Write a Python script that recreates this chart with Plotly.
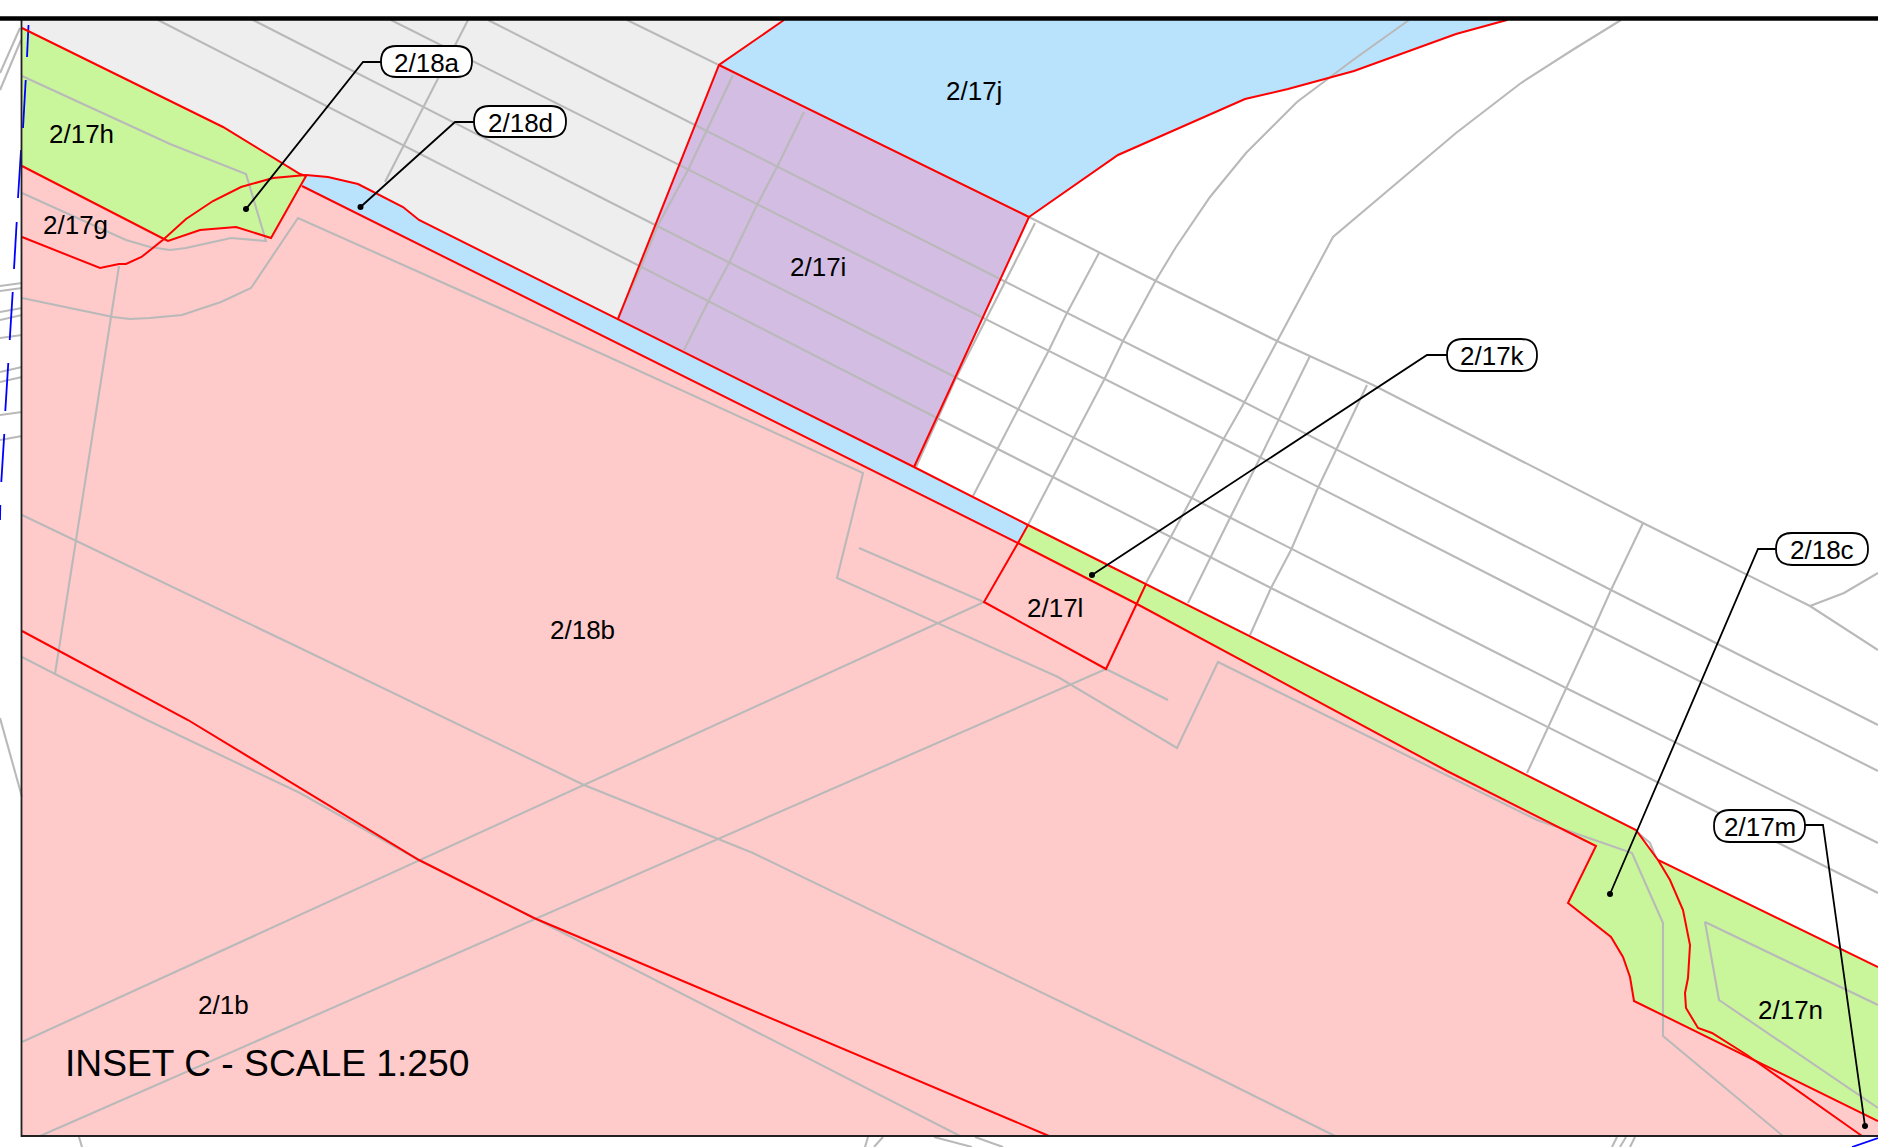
import plotly.graph_objects as go

# map geometry, in sheet pixels
grey_area = [(22,20),(784,20),(719,65),(618,319),(419,220),(403,207),(358,184),(328,177),(306,175),(300,174),(223,127),(22,28)]
plot_pink = [(22,166),(164,239),(168,241),(200,230),(236,227),(271,238),(302,186),(1018,543),(1137,604),(1447,771),(1596,846),
             (1568,903),(1611,937),(1623,957),(1630,977),(1634,1001),(1878,1121),(1878,1136),(22,1136)]
plot_17h = [(22,28),(223,127),(300,174),(306,176),(271,238),(236,227),(200,230),(168,241),(164,239),(22,166)]
plot_18d = [(306,175),(328,177),(358,184),(403,207),(419,220),(618,319),(914,467),(1028,525),(1018,543),(302,186)]
plot_17i = [(719,65),(1029,217),(914,467),(618,319)]
plot_17j = [(784,20),(719,65),(1029,217),(1118,155),(1245,99),(1288,89),(1354,71),(1456,34),(1507,20)]
plot_17k = [(1028,525),(1636,830),(1658,860),(1878,967),(1878,1121),(1634,1001),(1630,977),(1623,957),(1611,937),
            (1568,903),(1596,846),(1447,771),(1137,604),(1018,543)]

grey_lines = [
    # long parallels
    [(627,20),(719,65),(1029,217),(1154,280),(1277,341),(1373,385),(1643,523),(1810,606),(1878,650)],
    [(488,20),(600,77),(1002,280),(1240,400),(1611,590),(1878,725)],
    [(391,20),(600,125),(984,318),(1240,447),(1594,628),(1878,771)],
    [(253,20),(600,197),(955,377),(1229,517),(1566,688),(1878,843)],
    [(158,20),(600,246),(937,418),(1271,588),(1547,727),(1878,893)],
    [(1810,606),(1844,593),(1878,573)],
    # cross lines
    [(468,20),(385,182)],
    [(733,75),(688,170),(657,227),(641,267),(618,318)],
    [(804,112),(778,165),(757,205),(729,263),(708,302),(684,350)],
    [(1035,223),(986,320),(955,380),(916,467)],
    [(1099,253),(1067,313),(1048,352),(1018,410),(998,448),(973,496)],
    [(1409,20),(1353,60),(1297,102),(1246,153),(1210,197),(1176,247),(1156,280),(1123,341),(1104,380),(1073,438),(1053,477),(1028,525)],
    [(1621,20),(1574,49),(1521,83),(1456,133),(1333,237),(1277,341),(1244,403),(1223,440),(1192,498),(1172,535),(1146,583)],
    [(1310,356),(1279,420),(1259,460),(1230,518),(1210,558),(1188,603)],
    [(1367,385),(1336,450),(1317,490),(1291,550),(1271,588),(1250,635)],
    [(1643,523),(1611,590),(1594,628),(1566,688),(1548,727),(1527,773)],
    # inside the pink and green plots
    [(22,76),(170,144),(246,174),(264,233),(266,241),(231,238),(186,248),(170,250),(150,247),(126,240),(22,193)],
    [(22,298),(113,317),(130,319),(150,318),(182,315),(202,308),(221,302),(251,288),(298,218),(600,353),(863,473),(837,578),
     (1058,677),(1177,748),(1218,662),(1537,820),(1632,853),(1663,923),(1663,1036),(1783,1136)],
    [(859,548),(984,602)],
    [(1106,669),(1168,700)],
    [(22,1042),(984,602)],
    [(40,1136),(1106,669)],
    [(22,515),(300,648),(584,785),(718,839),(753,853),(1200,1069),(1335,1136)],
    [(22,657),(55,674),(147,720),(300,793),(415,858),(534,918),(960,1136)],
    [(119,266),(55,674)],
    [(1637,832),(1650,843),(1656,858)],
    [(1878,1005),(1705,922),(1719,1000),(1878,1108)],
    # outside the frame
    [(20,28),(0,73)],[(21,40),(0,90)],[(22,283),(0,286)],[(22,288),(0,291)],[(22,308),(0,312)],[(22,315),(0,320)],[(22,335),(0,338)],
    [(22,367),(0,372)],[(22,377),(0,382)],[(22,412),(0,415)],[(22,436),(0,440)],[(0,718),(22,797)],[(79,1137),(82,1147)],
    [(865,1147),(868,1137)],[(874,1147),(883,1137)],[(934,1137),(972,1147)],[(975,1137),(1003,1147)],
    [(1612,1147),(1617,1137)],[(1620,1147),(1626,1137)],[(1630,1147),(1635,1137)],
]

red_lines = [
    [(22,28),(223,127),(300,174),(306,176),(271,238),(236,227),(200,230),(168,241),(164,239),(22,166)],
    [(306,175),(328,177),(358,184),(403,207),(419,220),(618,319),(914,467),(1028,525),(1636,830),(1658,860),(1878,967)],
    [(306,175),(273,178),(241,187),(213,201),(186,219),(164,239),(141.5,257),(126,264),(119,264),(100,268),(22,237)],
    [(302,186),(1018,543),(1137,604),(1447,771),(1596,846),(1568,903),(1611,937),(1623,957),(1630,977),(1634,1001),(1878,1121)],
    [(784,20),(719,65),(618,319)],
    [(719,65),(1029,217),(914,467)],
    [(1029,217),(1118,155),(1245,99),(1288,89),(1354,71),(1456,34),(1507,20)],
    [(1028,525),(1018,543),(984,602),(1106,669),(1146,584)],
    [(1658,860),(1670,880),(1683,910),(1690,945),(1688,978),(1685,993),(1686,1008),(1698,1028),(1712,1033),(1747,1055),(1862,1136)],
    [(22,631),(188,720),(419,860),(534,918),(1049,1136)],
]

blue_dashes = [[(28.5,25),(27,57)],[(25.7,80),(23,128)],[(21,150),(18,198)],[(16.7,222),(14,269)],[(12.7,292),(9.7,340)],
               [(8.3,363),(5.3,411)],[(4.3,434),(1.3,482)],[(0.3,505),(0,520)],[(1852,1147),(1878,1138)]]

# callouts: label, pill left/right/top/bottom, leader
callout_labels = ["2/18a","2/18d","2/17k","2/18c","2/17m"]
callout_boxes = [(381,472,46,77),(474,566,106,137),(1447,1537,339,371),(1776,1868,533,565),(1714,1805,810,842)]
callout_leaders = [
    [(381,62),(363,62),(246,209)],
    [(474,122),(455,122),(360.5,207)],
    [(1447,355),(1427,355),(1092,575)],
    [(1776,549),(1758,549),(1610,894)],
    [(1805,825),(1823,825),(1865,1126)],
]

plot_labels = ["2/17h","2/17g","2/17j","2/17i","2/18b","2/17l","2/17n","2/1b"]
plot_label_x = [81,75,974,818,582,1055,1790,223]
plot_label_y = [134,225,91,267,630,608,1010,1005]

RED = "#ff0000"
GREY = "#b9b9b9"
FONT = "Liberation Sans"


def xy(points):
    return [p[0] for p in points], [p[1] for p in points]


def add_area(fig, points, color):
    x, y = xy(points)
    fig.add_trace(go.Scatter(x=x, y=y, mode="none", fill="toself", fillcolor=color, hoverinfo="skip"))


def add_line(fig, points, color, width):
    x, y = xy(points)
    fig.add_trace(go.Scatter(x=x, y=y, mode="lines", line=dict(color=color, width=width), hoverinfo="skip"))


def pill_path(x0, x1, y0, y1):
    r = (y1 - y0) * 0.5
    return (f"M {x0+r} {y0} L {x1-r} {y0} Q {x1} {y0} {x1} {y0+r} L {x1} {y1-r} Q {x1} {y1} {x1-r} {y1} "
            f"L {x0+r} {y1} Q {x0} {y1} {x0} {y1-r} L {x0} {y0+r} Q {x0} {y0} {x0+r} {y0} Z")


fig = go.Figure()

add_area(fig, grey_area, "#eeeeee")
add_area(fig, plot_pink, "#ffcaca")
add_area(fig, plot_17h, "#c9f59b")
add_area(fig, plot_18d, "#b9e2fd")
add_area(fig, plot_17i, "#d3bde2")
add_area(fig, plot_17j, "#b9e2fd")
add_area(fig, plot_17k, "#c9f59b")

for line in grey_lines:
    add_line(fig, line, GREY, 2.1)
for line in blue_dashes:
    add_line(fig, line, "#0000ff", 1.8)
for line in red_lines:
    add_line(fig, line, RED, 2)

# frame
add_line(fig, [(21.5,18),(21.5,1136),(1878,1136)], "#222222", 1.8)
add_line(fig, [(0,18.5),(1878,18.5)], "#000000", 4.5)

shapes = []
for leader, box in zip(callout_leaders, callout_boxes):
    add_line(fig, leader, "#000000", 1.8)
    x, y = xy(leader[-1:])
    fig.add_trace(go.Scatter(x=x, y=y, mode="markers", marker=dict(color="#000000", size=6), hoverinfo="skip"))
    shapes.append(dict(type="path", path=pill_path(*box), xref="x", yref="y",
                       fillcolor="#ffffff", line=dict(color="#000000", width=1.8)))

annotations = []
for label, x, y in zip(plot_labels, plot_label_x, plot_label_y):
    annotations.append(dict(x=x, y=y, text=label, showarrow=False, font=dict(family=FONT, size=26, color="#000000")))
for label, box in zip(callout_labels, callout_boxes):
    annotations.append(dict(x=(box[0]+box[1])/2, y=(box[2]+box[3])/2+1, text=label, showarrow=False,
                            font=dict(family=FONT, size=26, color="#000000")))
annotations.append(dict(x=267, y=1063, text="INSET C - SCALE 1:250", showarrow=False,
                        font=dict(family=FONT, size=37.2, color="#000000")))

fig.update_layout(
    width=1878, height=1147, margin=dict(l=0, r=0, t=0, b=0), autosize=False,
    paper_bgcolor="#ffffff", plot_bgcolor="#ffffff", showlegend=False,
    xaxis=dict(range=[0, 1878], visible=False, fixedrange=True),
    yaxis=dict(range=[1147, 0], visible=False, fixedrange=True),
    shapes=shapes, annotations=annotations,
)

fig.write_html("out.html", config=dict(displayModeBar=False),
               post_script="document.body.style.margin='0';document.body.style.overflow='hidden';")
